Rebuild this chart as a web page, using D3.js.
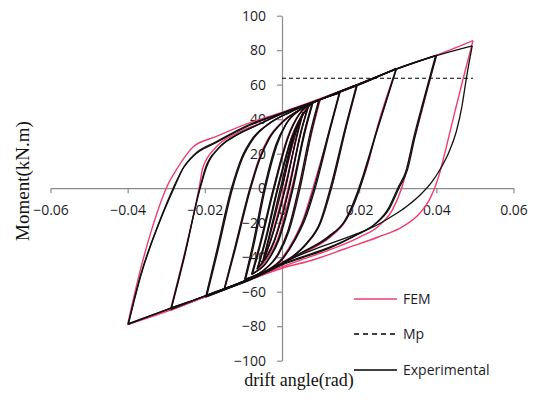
<!DOCTYPE html>
<html>
<head>
<meta charset="utf-8">
<script src="https://cdn.jsdelivr.net/npm/d3@7"></script>
<style>
  body { margin: 0; background: #fff; }
  text { font-family: "Open Sans", sans-serif; }
</style>
</head>
<body>
<svg id="chart" width="534" height="403"></svg>
<script>
// tick values
const xTicks = [-0.06, -0.04, -0.02, 0, 0.02, 0.04, 0.06];
const yTicks = [-100, -80, -60, -40, -20, 0, 20, 40, 60, 80, 100];

// plastic moment line [drift from, drift to, moment]
const mpLine = [0, 0.0495, 63.7];

// FEM hysteresis, [drift angle (rad), moment (kN.m)]
const femPath = [
  [0, 0], [0.003, 27], [0.0045, 38], [0.0055, 44],
  [0.004, 31], [0.0006, 0], [-0.003, -30], [-0.0042, -38], [-0.005, -43],
  [-0.0035, -30], [-0.0002, 0], [0.003, 30], [0.005, 41], [0.0068, 47],
  [0.005, 33], [0.0016, 0], [-0.002, -30], [-0.0045, -41], [-0.0063, -46.5],
  [-0.0045, -32], [-0.0011, 0], [0.0025, 30], [0.005, 42], [0.008, 49.5],
  [0.006, 33], [0.0025, 0], [-0.0012, -30], [-0.0045, -43], [-0.0078, -50],
  [-0.0058, -33], [-0.0022, 0], [0.0015, 30], [0.0045, 43], [0.007, 48], [0.01, 52],
  [0.0078, 33], [0.0045, 0], [0.0015, -25], [-0.001, -38], [-0.005, -48], [-0.0096, -53],
  [-0.0075, -33], [-0.0045, 0], [-0.0015, 25], [0.001, 37], [0.005, 46], [0.01, 51.5], [0.015, 55.5],
  [0.0125, 35], [0.008, 0], [0.0055, -18], [0.003, -30], [0, -40.5], [-0.005, -49], [-0.01, -54], [-0.015, -58.6],
  [-0.0125, -37], [-0.0083, 0], [-0.006, 17], [-0.0035, 29], [0, 38.5], [0.005, 46], [0.01, 51.5], [0.0195, 60],
  [0.0168, 37], [0.0128, 0], [0.01, -20], [0.0065, -32], [0.003, -39], [0, -43], [-0.005, -49.5], [-0.01, -54.5], [-0.0197, -63],
  [-0.017, -38], [-0.013, 0], [-0.0105, 17], [-0.0075, 29], [-0.003, 38], [0.002, 44], [0.01, 51.5], [0.02, 60], [0.0297, 69.5],
  [0.0245, 33.7], [0.0223, 14.4], [0.0201, 0], [0.0185, -10], [0.0165, -19], [0.0124, -28.5], [0.0046, -38.5], [0, -44], [-0.01, -54.5], [-0.02, -63], [-0.029, -71],
  [-0.0255, -40], [-0.0215, 0], [-0.0205, 12], [-0.017, 24], [-0.0118, 31.8], [-0.0057, 37.6], [0, 43.5], [0.01, 51.5], [0.02, 60.5], [0.03, 69.5], [0.04, 77],
  [0.0365, 47], [0.0335, 22], [0.031, 0], [0.0285, -13], [0.025, -22], [0.02, -28.5], [0.012, -36], [0.005, -41.5], [0, -45.5], [-0.01, -54.5], [-0.02, -63], [-0.03, -71], [-0.04, -79],
  [-0.037, -50], [-0.0335, -22], [-0.03, 0], [-0.027, 12], [-0.023, 24], [-0.017, 30], [-0.0083, 38], [0, 44], [0.01, 52], [0.02, 60.5], [0.03, 69.5], [0.04, 77], [0.0495, 85.5],
  [0.0469, 63], [0.0447, 43.4], [0.0426, 24], [0.0405, 6], [0.0382, -6.8], [0.0357, -14.5], [0.0313, -22.3], [0.0253, -28], [0.0167, -34.8], [0.008, -41.6], [0, -46.4], [-0.01, -54.5], [-0.02, -63], [-0.03, -71.5], [-0.04, -79]
];

// experimental hysteresis (two cycles per amplitude)
const expPath = [
  [0, 0], [0.003, 28], [0.0053, 43],
  [0.0038, 30], [0.0008, 0], [-0.003, -31], [-0.0048, -42],
  [-0.0033, -29], [0, 0], [0.003, 30], [0.0055, 44],
  [0.0039, 31], [0.0009, 0], [-0.0029, -30], [-0.0052, -44],
  [-0.0036, -30], [-0.0004, 0], [0.003, 31], [0.0066, 46.5],
  [0.0048, 32], [0.0018, 0], [-0.002, -31], [-0.0062, -46],
  [-0.0044, -32], [-0.001, 0], [0.0027, 30], [0.0068, 47],
  [0.005, 33], [0.0019, 0], [-0.0021, -31], [-0.0065, -47],
  [-0.0046, -32], [-0.0012, 0], [0.0026, 30], [0.0078, 49.5],
  [0.0058, 33], [0.0027, 0], [-0.001, -30], [-0.004, -43], [-0.0076, -49.5],
  [-0.0056, -33], [-0.002, 0], [0.0017, 30], [0.0045, 43], [0.008, 49.5],
  [0.006, 33], [0.0029, 0], [-0.0008, -30], [-0.004, -43], [-0.0079, -50],
  [-0.0058, -33], [-0.0022, 0], [0.0016, 30], [0.0045, 43], [0.0095, 51],
  [0.0074, 33], [0.0043, 0], [0.0015, -25], [-0.001, -38], [-0.005, -48], [-0.0094, -52.5],
  [-0.0073, -33], [-0.0043, 0], [-0.0013, 25], [0.001, 37], [0.005, 46], [0.0098, 51.5],
  [0.0077, 33], [0.0047, 0], [0.0018, -25], [-0.0008, -38], [-0.005, -48], [-0.0097, -53],
  [-0.0076, -33], [-0.0046, 0], [-0.0016, 25], [0.001, 37], [0.005, 46], [0.01, 51.5], [0.0148, 55],
  [0.0124, 35], [0.0083, 0], [0.0057, -18], [0.0032, -30], [0, -41], [-0.005, -49], [-0.0148, -58],
  [-0.0123, -37], [-0.0081, 0], [-0.0057, 17], [-0.0032, 29], [0, 38], [0.005, 46], [0.015, 55.5],
  [0.0126, 35], [0.0086, 0], [0.006, -18], [0.0034, -30], [0, -41.5], [-0.005, -49.5], [-0.015, -58.6],
  [-0.0125, -37], [-0.0083, 0], [-0.006, 16], [-0.0035, 28.5], [0, 38], [0.005, 46], [0.01, 51.5], [0.0193, 59.8],
  [0.0166, 37], [0.0125, 0], [0.0098, -20], [0.0063, -32], [0.0028, -39.5], [0, -43.5], [-0.01, -54.5], [-0.0195, -62.5],
  [-0.0168, -38], [-0.0128, 0], [-0.0103, 17], [-0.0073, 29], [-0.003, 38], [0.002, 44], [0.01, 51.5], [0.0195, 60],
  [0.0168, 37], [0.0128, 0], [0.01, -20], [0.0065, -32], [0.003, -39.5], [0, -44], [-0.01, -54.5], [-0.0198, -63.2],
  [-0.0171, -38], [-0.0131, 0], [-0.0106, 17], [-0.0076, 29], [-0.003, 38], [0.002, 44], [0.01, 51.5], [0.02, 60], [0.0296, 69.5],
  [0.0245, 33], [0.0199, 0], [0.0182, -10], [0.0162, -19], [0.012, -28], [0.0045, -38], [0, -43.5], [-0.01, -54], [-0.02, -62.5], [-0.0287, -70],
  [-0.0253, -40], [-0.0213, 0], [-0.0198, 12], [-0.0165, 23], [-0.0115, 31], [-0.0055, 37.5], [0, 43], [0.01, 51.5], [0.02, 60], [0.0297, 69.3],
  [0.0246, 33], [0.0202, 0], [0.0185, -10], [0.0165, -18.5], [0.0124, -28], [0.0046, -38], [0, -44], [-0.01, -54], [-0.02, -62.5], [-0.0288, -70.3],
  [-0.0254, -40], [-0.0212, 0], [-0.0196, 12], [-0.0163, 23.5], [-0.0113, 31.5], [-0.0055, 37.5], [0, 43.5], [0.01, 51.5], [0.02, 60.3], [0.03, 69.5], [0.0398, 76.8],
  [0.0368, 52], [0.0342, 30], [0.0322, 10.5], [0.03, 0], [0.0275, -12], [0.024, -21], [0.019, -27.5], [0.012, -35], [0.005, -40.5], [0, -44.5], [-0.01, -54], [-0.02, -62.5], [-0.03, -70.5], [-0.0398, -78.5],
  [-0.0365, -50], [-0.0318, -20], [-0.028, 0], [-0.0255, 12], [-0.0225, 20], [-0.017, 27], [-0.0083, 37], [0, 43.5], [0.01, 51.5], [0.02, 60.5], [0.03, 69.3], [0.0401, 77.2],
  [0.037, 52], [0.0345, 30], [0.0325, 10.5], [0.0303, 0], [0.0278, -12], [0.0243, -20.5], [0.0193, -27], [0.012, -34.5], [0.005, -40], [0, -44], [-0.01, -54], [-0.02, -62.5], [-0.03, -70.5], [-0.0399, -79],
  [-0.0366, -50], [-0.0319, -20], [-0.0282, 0], [-0.0258, 11], [-0.0228, 19], [-0.017, 26.5], [-0.0083, 36.5], [0, 43.5], [0.01, 51.5], [0.02, 60.5], [0.03, 69.3], [0.04, 76.8], [0.0493, 82.5],
  [0.0478, 64], [0.0466, 47], [0.0452, 33], [0.0432, 20.5], [0.041, 11], [0.0388, 3.5], [0.036, -3.5], [0.0322, -10.7], [0.0287, -16], [0.0245, -21.5], [0.0193, -26.5], [0.01, -34], [0, -43]
];

const legendLabels = ["FEM", "Mp", "Experimental"];

const femColor = "#ef3d6e";
const axisColor = "#8c8c8c";

// cut a hysteresis path into half-cycles at every load reversal
function halfCycles(path) {
  const out = [];
  let cur = [path[0]];
  let dir = 0;
  for (let i = 1; i < path.length; i++) {
    const d = Math.sign(path[i][0] - path[i - 1][0]);
    if (dir !== 0 && d !== 0 && d !== dir) {
      out.push(cur);
      cur = [path[i - 1]];
    }
    if (d !== 0) dir = d;
    cur.push(path[i]);
  }
  out.push(cur);
  // monotoneX wants x increasing
  return out.map(b => b[0][0] > b[b.length - 1][0] ? b.slice().reverse() : b);
}

const svg = d3.select("#chart");

const x = d3.scaleLinear().domain([-0.06, 0.06]).range([50.5, 513.5]);
const y = d3.scaleLinear().domain([-100, 100]).range([360.7, 15.7]);

// axes cross at the origin
const xAxis = svg.append("g")
  .attr("transform", `translate(0,${y(0)})`)
  .call(d3.axisBottom(x).tickValues(xTicks).tickSize(5).tickSizeOuter(0).tickPadding(12)
    .tickFormat(d => d === 0 ? "0" : d3.format(".2f")(d)));

const yAxis = svg.append("g")
  .attr("transform", `translate(${x(0)},0)`)
  .call(d3.axisLeft(y).tickValues(yTicks).tickSize(5).tickSizeOuter(0).tickPadding(11));

[xAxis, yAxis].forEach(g => {
  g.select(".domain").attr("stroke", axisColor).attr("stroke-width", 1.2);
  g.selectAll(".tick line").attr("stroke", axisColor).attr("stroke-width", 1.2);
  g.selectAll(".tick text")
    .attr("fill", "#1c1c28")
    .style("font-family", "'Open Sans', sans-serif")
    .style("font-size", "14px");
});

const line = d3.line()
  .x(d => x(d[0]))
  .y(d => y(d[1]))
  .curve(d3.curveMonotoneX);

svg.append("g")
  .selectAll("path")
  .data(halfCycles(femPath))
  .join("path")
  .attr("fill", "none")
  .attr("stroke", femColor)
  .attr("stroke-width", 1.4)
  .attr("d", line);

svg.append("g")
  .selectAll("path")
  .data(halfCycles(expPath))
  .join("path")
  .attr("fill", "none")
  .attr("stroke", "#111")
  .attr("stroke-width", 1.3)
  .attr("d", line);

svg.append("line")
  .attr("x1", x(mpLine[0]))
  .attr("x2", x(mpLine[1]))
  .attr("y1", y(mpLine[2]))
  .attr("y2", y(mpLine[2]))
  .attr("stroke", "#000")
  .attr("stroke-width", 1.1)
  .attr("stroke-dasharray", "4,3");

// axis titles
svg.append("text")
  .attr("transform", "translate(29,181) rotate(-90)")
  .attr("text-anchor", "middle")
  .style("font-family", "'Liberation Serif', serif")
  .style("font-size", "19px")
  .attr("fill", "#111")
  .text("Moment(kN.m)");

svg.append("text")
  .attr("x", 299)
  .attr("y", 386)
  .attr("text-anchor", "middle")
  .style("font-family", "'Liberation Serif', serif")
  .style("font-size", "18px")
  .attr("fill", "#111")
  .text("drift angle(rad)");

// legend
const legendY = [299, 334, 370];
const legendStyle = [
  { stroke: femColor, dash: null },
  { stroke: "#000", dash: "5,4" },
  { stroke: "#000", dash: null }
];

const lg = svg.append("g");
legendLabels.forEach((label, i) => {
  lg.append("line")
    .attr("x1", 354).attr("x2", 397)
    .attr("y1", legendY[i]).attr("y2", legendY[i])
    .attr("stroke", legendStyle[i].stroke)
    .attr("stroke-width", 1.3)
    .attr("stroke-dasharray", legendStyle[i].dash);
  lg.append("text")
    .attr("x", 403)
    .attr("y", legendY[i])
    .attr("dy", "0.35em")
    .attr("fill", "#1c1c28")
    .style("font-size", "14px")
    .text(label);
});
</script>
</body>
</html>
